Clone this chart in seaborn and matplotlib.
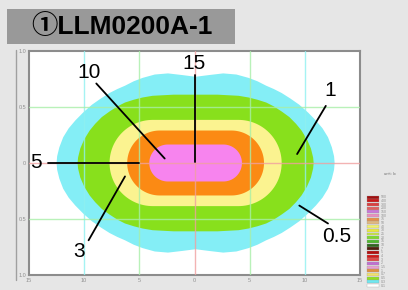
import numpy as np
import matplotlib
matplotlib.use("Agg")
import matplotlib.pyplot as plt
import seaborn as sns
import pandas as pd

sns.set_theme(style="white")
plt.rcParams['font.family'] = ['Liberation Sans', 'Noto Sans CJK JP', 'DejaVu Sans']

# ---- data ----
title = "①LLM0200A-1"
levels = ["0.5", "1", "3", "5", "10"]
level_colors = ["#84eef6", "#88e01c", "#fbf390", "#fb8a14", "#f784ee"]
center_x = 0.1

# outer contours: upper-left quarter outline, from the centre line to the left end
cyan_qx = [0.0, -1.2, -2.5, -3.7, -4.8, -5.6, -6.4, -7.1, -7.8, -8.6, -9.4, -10.2, -10.9, -11.5, -12.0, -12.35, -12.55, -12.6]
cyan_qy = [0.77, 0.785, 0.80, 0.79, 0.76, 0.73, 0.69, 0.66, 0.625, 0.575, 0.52, 0.45, 0.38, 0.31, 0.23, 0.14, 0.06, 0.0]
green_qx = [0.0, -2.0, -3.9, -4.8, -5.6, -6.4, -7.1, -7.8, -8.5, -9.1, -9.6, -10.1, -10.45, -10.65, -10.7]
green_qy = [0.61, 0.61, 0.60, 0.585, 0.565, 0.54, 0.505, 0.46, 0.41, 0.35, 0.29, 0.21, 0.13, 0.05, 0.0]

# inner contours: rounded "stadium" shapes (left end, right end, half height)
inner_left = [-7.7, -6.1, -4.1]
inner_right = [7.9, 6.3, 4.3]
inner_half_h = [0.385, 0.29, 0.165]

label_text = ["15", "10", "5", "3", "1", "0.5"]
label_x = [0.0, -9.6, -14.4, -10.5, 12.3, 12.9]
label_y = [0.89, 0.81, 0.0, -0.79, 0.65, -0.66]
leader_x0 = [0.0, -8.9, -13.3, -9.6, 11.9, 12.1]
leader_y0 = [0.79, 0.71, 0.0, -0.69, 0.51, -0.54]
leader_x1 = [0.0, -2.7, -5.0, -6.3, 9.3, 9.5]
leader_y1 = [0.01, 0.04, 0.0, -0.12, 0.08, -0.38]

x_ticks = [-15, -10, -5, 0, 5, 10, 15]
x_tick_labels = ["15", "10", "5", "0", "5", "10", "15"]
y_ticks = [1.0, 0.5, 0.0, -0.5, -1.0]
y_tick_labels = ["1.0", "0.5", "0", "0.5", "1.0"]

scale_colors = ["#a01010", "#c81818", "#d84040", "#e06060", "#c878d8", "#e890c0",
                "#e89048", "#e0b880", "#f0f070", "#e8e840", "#c8e840", "#80d830",
                "#50b830", "#306820", "#502010", "#b01010", "#d01818", "#e04848",
                "#c070d0", "#e8a0d0", "#e09040", "#f0e070", "#90e020", "#70e8f0",
                "#ffffff"]
scale_labels = ["500", "400", "300", "200", "150", "100", "75", "50", "40", "30",
                "25", "20", "15", "10", "7", "5", "4", "3", "2", "1.5", "1",
                "0.7", "0.5", "0.3", "0.1"]

PX_X, PX_Y = 11.0, 112.0   # pixel scale of one data unit (for round ends)


def mirror_outline(qx, qy, cx):
    qx = np.asarray(qx); qy = np.asarray(qy)
    xs = np.concatenate([-qx[::-1], qx[1:], qx[::-1][1:], -qx[1:]]) + cx
    ys = np.concatenate([qy[::-1], qy[1:], -qy[::-1][1:], -qy[1:]])
    return xs, ys


def stadium(xl, xr, hh, n=60):
    r_y = hh
    r_x = hh * PX_Y / PX_X
    cl, cr = xl + r_x, xr - r_x
    t = np.linspace(-np.pi / 2, np.pi / 2, n)
    xs = np.concatenate([cr + r_x * np.cos(t), cl - r_x * np.cos(t)])
    ys = np.concatenate([r_y * np.sin(t), -r_y * np.sin(t)])
    return xs, ys


fig = plt.figure(figsize=(4.08, 2.90), dpi=100)
fig.patch.set_facecolor("#e6e6e6")

# title box
fig.patches.append(matplotlib.patches.Rectangle((7 / 408, 1 - 44 / 290), 228 / 408, 35 / 290,
                                                transform=fig.transFigure, facecolor="#999999",
                                                edgecolor="none", zorder=0))
fig.text(122 / 408, 1 - 27 / 290, title, ha="center", va="center", fontsize=19,
         fontweight="bold", color="black",
         family=['Liberation Sans', 'Noto Sans CJK JP', 'DejaVu Sans'])

# outer left frame line
fig.add_artist(matplotlib.lines.Line2D([16 / 408, 16 / 408], [1 - 50 / 290, 1 - 280 / 290],
                                       transform=fig.transFigure, color="#a0a0a0", lw=1))

ax = fig.add_axes([29 / 408, 1 - 275 / 290, 331 / 408, 224 / 290])
ax.set_facecolor("white")
ax.set_xlim(-15, 15)
ax.set_ylim(-1, 1)

outer = [(cyan_qx, cyan_qy), (green_qx, green_qy)]
for i, (qx, qy) in enumerate(outer):
    xs, ys = mirror_outline(qx, qy, center_x)
    ax.fill(xs, ys, color=level_colors[i], lw=0, zorder=1 + i)
for j in range(len(inner_left)):
    xs, ys = stadium(inner_left[j], inner_right[j], inner_half_h[j])
    ax.fill(xs, ys, color=level_colors[2 + j], lw=0, zorder=3 + j)

# reference grid
for xv, c in zip(x_ticks[1:-1], ["#8ff0f0", "#a8eea8", "#f0a0a0", "#a8eea8", "#8ff0f0"]):
    ax.axvline(xv, color=c, lw=1, alpha=0.8, zorder=8)
for yv, c in zip(y_ticks[1:-1], ["#a8eea8", "#f0a0a0", "#a8eea8"]):
    ax.axhline(yv, color=c, lw=1, alpha=0.8, zorder=8)

# leader lines and labels
for i in range(len(label_text)):
    seg = pd.DataFrame({"x": [leader_x0[i], leader_x1[i]], "y": [leader_y0[i], leader_y1[i]]})
    sns.lineplot(data=seg, x="x", y="y", color="black", lw=1.3, ax=ax, zorder=10,
                 sort=False, estimator=None)
    ax.text(label_x[i], label_y[i], label_text[i], ha="center", va="center",
            fontsize=15, color="black", zorder=11)

ax.set_xlabel("")
ax.set_ylabel("")
ax.set_xticks(x_ticks)
ax.set_xticklabels(x_tick_labels, fontsize=4, color="#909090")
ax.set_yticks(y_ticks)
ax.set_yticklabels(y_tick_labels, fontsize=4, color="#909090")
ax.tick_params(length=0, pad=2)
for s in ax.spines.values():
    s.set_color("#8c8c8c")
    s.set_linewidth(1.5)

# small colour scale legend on the right
fig.text(390 / 408, 1 - 175 / 290, "unit: lx", fontsize=3, color="#707070", ha="center")
n = len(scale_colors)
top_px, bot_px = 195, 287
h = (bot_px - top_px) / n
for k in range(n):
    y0 = 1 - (top_px + (k + 1) * h) / 290
    fig.patches.append(matplotlib.patches.Rectangle((367 / 408, y0), 12 / 408, h * 0.8 / 290,
                                                    transform=fig.transFigure,
                                                    facecolor=scale_colors[k],
                                                    edgecolor="#999999", lw=0.2))
    fig.text(381 / 408, y0 + h * 0.4 / 290, scale_labels[k], fontsize=2.5, color="#909090",
             va="center")

fig.savefig("out.png", dpi=100, facecolor=fig.get_facecolor())
